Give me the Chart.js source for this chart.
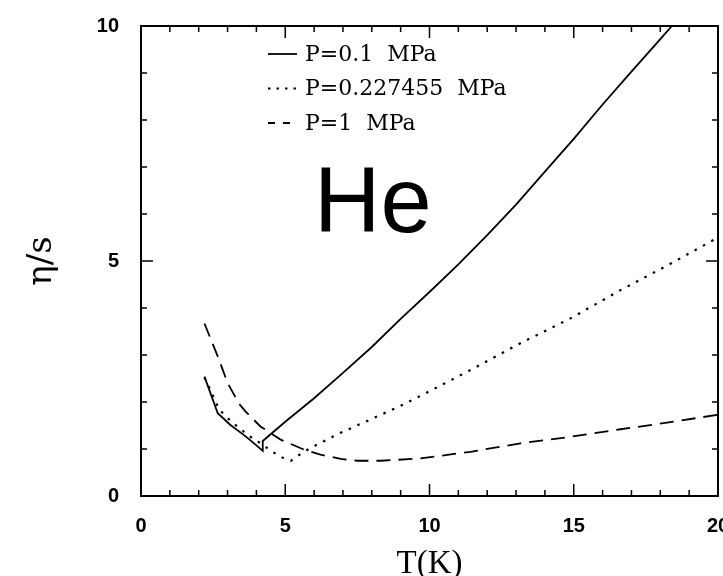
<!DOCTYPE html>
<html>
<head>
<meta charset="utf-8">
<script src="https://cdn.jsdelivr.net/npm/chart.js@4"></script>
<style>
  html, body { margin: 0; padding: 0; background: #fff; }
</style>
</head>
<body>
<canvas id="etaChart" width="723" height="576"></canvas>
<script>
// tick values
var xTickValues = [0, 5, 10, 15, 20];
var yTickValues = [0, 5, 10];

// P = 0.1 MPa
var tP01   = [2.2, 2.66, 3.1, 3.56, 3.9, 4.22, 4.22, 5.0, 6.0, 7.0, 8.0, 9.0, 10.0, 11.0, 12.0, 13.0, 14.0, 15.0, 16.0, 17.0, 18.0, 18.4];
var etaP01 = [2.54, 1.76, 1.51, 1.30, 1.13, 0.96, 1.17, 1.58, 2.08, 2.62, 3.17, 3.77, 4.34, 4.93, 5.55, 6.2, 6.9, 7.6, 8.33, 9.03, 9.72, 10.0];

// P = 0.227455 MPa (critical pressure)
var tPc   = [2.2, 2.35, 2.7, 3.1, 3.74, 4.2, 4.5, 4.95, 5.2, 5.5, 5.87, 6.9, 8.07, 9.0, 9.69, 11.42, 13.15, 14.89, 16.62, 18.35, 20.0];
var etaPc = [2.52, 2.33, 1.85, 1.6, 1.28, 1.1, 0.96, 0.8, 0.75, 0.88, 1.02, 1.34, 1.66, 1.92, 2.13, 2.68, 3.25, 3.78, 4.38, 4.94, 5.5];

// P = 1 MPa
var tP1   = [2.2, 2.7, 2.99, 3.39, 3.62, 4.14, 4.84, 5.64, 6.22, 6.92, 7.49, 8.3, 8.88, 9.69, 11.42, 13.15, 14.89, 16.62, 18.35, 20.0];
var etaP1 = [3.67, 2.91, 2.42, 1.97, 1.80, 1.48, 1.20, 0.99, 0.88, 0.79, 0.75, 0.75, 0.77, 0.80, 0.94, 1.12, 1.26, 1.42, 1.57, 1.73];

var seriesLabels = ["P=0.1  MPa", "P=0.227455  MPa", "P=1  MPa"];

function toPoints(xs, ys) {
    var pts = [];
    for (var i = 0; i < xs.length; i++) {
        pts.push({x: xs[i], y: ys[i]});
    }
    return pts;
}

// frame, inward ticks, legend and the "He" label
var framePlugin = {
    id: 'frame',
    afterDatasetsDraw: function(chart) {
        var ctx = chart.ctx;
        var a = chart.chartArea;
        var xs = chart.scales.x, ys = chart.scales.y;
        ctx.save();
        ctx.strokeStyle = '#000';
        ctx.lineWidth = 2;
        ctx.strokeRect(a.left, a.top, a.right - a.left, a.bottom - a.top);

        ctx.lineWidth = 1.5;
        ctx.beginPath();
        for (var v = xs.min + 1; v < xs.max; v++) {
            var len = (v % 5 === 0) ? 12 : 6;
            var px = xs.getPixelForValue(v);
            ctx.moveTo(px, a.bottom); ctx.lineTo(px, a.bottom - len);
            ctx.moveTo(px, a.top); ctx.lineTo(px, a.top + len);
        }
        for (var w = ys.min + 1; w < ys.max; w++) {
            var len2 = (w % 5 === 0) ? 12 : 6;
            var py = ys.getPixelForValue(w);
            ctx.moveTo(a.left, py); ctx.lineTo(a.left + len2, py);
            ctx.moveTo(a.right, py); ctx.lineTo(a.right - len2, py);
        }
        ctx.stroke();

        // legend
        ctx.font = '22px "DejaVu Serif"';
        ctx.fillStyle = '#000';
        ctx.textBaseline = 'middle';
        chart.data.datasets.forEach(function(ds, i) {
            var y = a.top + 28 + i * 34.5;
            var x0 = a.left + 127;
            ctx.save();
            ctx.lineWidth = ds.borderWidth;
            ctx.setLineDash(ds.legendDash);
            ctx.beginPath();
            ctx.moveTo(x0, y);
            ctx.lineTo(x0 + 29, y);
            ctx.stroke();
            ctx.restore();
            ctx.fillText(ds.label, x0 + 37, y + 1);
        });

        ctx.font = '92px "Liberation Sans"';
        ctx.textBaseline = 'alphabetic';
        ctx.fillText('He', xs.getPixelForValue(6.0), ys.getPixelForValue(5.62));
        ctx.restore();
    }
};

var lineBase = {borderColor: '#000', pointRadius: 0, fill: false, tension: 0};

var ctx = document.getElementById("etaChart");
var etaChart = new Chart(ctx, {
    type: 'line',
    data: {
        datasets: [
            Object.assign({label: seriesLabels[0], data: toPoints(tP01, etaP01), borderWidth: 1.8, borderDash: [], legendDash: []}, lineBase),
            Object.assign({label: seriesLabels[1], data: toPoints(tPc, etaPc), borderWidth: 2.2, borderDash: [2.5, 7], legendDash: [2.5, 6]}, lineBase),
            Object.assign({label: seriesLabels[2], data: toPoints(tP1, etaP1), borderWidth: 1.8, borderDash: [14, 8], legendDash: [7, 8]}, lineBase)
        ]
    },
    options: {
        responsive: false,
        animation: false,
        devicePixelRatio: 1,
        layout: {padding: {left: 0, top: 26, right: 5, bottom: 0}},
        plugins: {legend: {display: false}, tooltip: {enabled: false}},
        scales: {
            x: {
                type: 'linear', min: 0, max: 20,
                afterBuildTicks: function(s) { s.ticks = xTickValues.map(function(v) { return {value: v}; }); },
                afterFit: function(s) { s.height = 80; s.paddingLeft = 0; s.paddingRight = 0; },
                grid: {display: false, drawTicks: false},
                border: {display: false},
                ticks: {color: '#000', font: {family: 'Liberation Sans', size: 20, weight: 'bold'}, padding: 18, maxRotation: 0, autoSkip: false},
                title: {display: true, text: 'T(K)', color: '#000', font: {family: 'Liberation Serif', size: 33, lineHeight: 0.7}, padding: 0}
            },
            y: {
                type: 'linear', min: 0, max: 10,
                afterBuildTicks: function(s) { s.ticks = yTickValues.map(function(v) { return {value: v}; }); },
                afterFit: function(s) { s.width = 141; s.paddingTop = 0; s.paddingBottom = 0; },
                grid: {display: false, drawTicks: false},
                border: {display: false},
                ticks: {color: '#000', font: {family: 'Liberation Sans', size: 20, weight: 'bold'}, padding: 22, autoSkip: false},
                title: {display: true, text: 'η/s', color: '#000', font: {family: 'DejaVu Serif', size: 34}, padding: {top: 22, bottom: 0}}
            }
        }
    },
    plugins: [framePlugin]
});
</script>
</body>
</html>
